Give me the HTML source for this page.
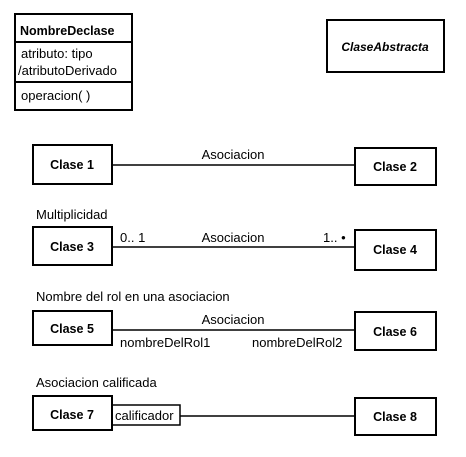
<!DOCTYPE html>
<html><head><style>html,body{margin:0;padding:0;background:#fff}</style></head>
<body>
<svg width="466" height="452" xmlns="http://www.w3.org/2000/svg" font-family="Liberation Sans, Arial, sans-serif" font-size="13" fill="#000">
<g fill="none" stroke="#000" stroke-width="2">
<rect x="15" y="14" width="117" height="96"/>
<line x1="15" y1="42" x2="132" y2="42"/>
<line x1="15" y1="82" x2="132" y2="82"/>
<rect x="327" y="20" width="117" height="52"/>
<rect x="33" y="145" width="79" height="39"/>
<rect x="355" y="148" width="81" height="37"/>
<rect x="33" y="227" width="79" height="38"/>
<rect x="355" y="230" width="81" height="40"/>
<rect x="33" y="311" width="79" height="34"/>
<rect x="355" y="312" width="81" height="38"/>
<rect x="33" y="396" width="79" height="34"/>
<rect x="112" y="405" width="68" height="20" stroke-width="1.5"/>
<rect x="355" y="398" width="81" height="37"/>
</g>
<g stroke="#000" stroke-width="1.5">
<line x1="112" y1="165" x2="355" y2="165"/>
<line x1="112" y1="247" x2="355" y2="247"/>
<line x1="112" y1="330" x2="355" y2="330"/>
<line x1="180" y1="416" x2="355" y2="416"/>
</g>
<text x="20" y="35" font-weight="bold" font-size="12.5">NombreDeclase</text>
<text x="21" y="58">atributo: tipo</text>
<text x="18" y="75">/atributoDerivado</text>
<text x="21" y="100">operacion( )</text>
<text x="385" y="51" text-anchor="middle" font-weight="bold" font-style="italic" font-size="12">ClaseAbstracta</text>
<text x="72" y="169" text-anchor="middle" font-weight="bold" font-size="12.5">Clase 1</text>
<text x="395" y="171" text-anchor="middle" font-weight="bold" font-size="12.5">Clase 2</text>
<text x="233" y="159" text-anchor="middle">Asociacion</text>
<text x="36" y="219">Multiplicidad</text>
<text x="72" y="251" text-anchor="middle" font-weight="bold" font-size="12.5">Clase 3</text>
<text x="395" y="254" text-anchor="middle" font-weight="bold" font-size="12.5">Clase 4</text>
<text x="120" y="242">0.. 1</text>
<text x="233" y="242" text-anchor="middle">Asociacion</text>
<text x="323" y="242">1.. •</text>
<text x="36" y="301">Nombre del rol en una asociacion</text>
<text x="72" y="333" text-anchor="middle" font-weight="bold" font-size="12.5">Clase 5</text>
<text x="395" y="336" text-anchor="middle" font-weight="bold" font-size="12.5">Clase 6</text>
<text x="233" y="324" text-anchor="middle">Asociacion</text>
<text x="120" y="347">nombreDelRol1</text>
<text x="252" y="347">nombreDelRol2</text>
<text x="36" y="387">Asociacion calificada</text>
<text x="72" y="419" text-anchor="middle" font-weight="bold" font-size="12.5">Clase 7</text>
<text x="115" y="420">calificador</text>
<text x="395" y="421" text-anchor="middle" font-weight="bold" font-size="12.5">Clase 8</text>
</svg>
</body></html>
